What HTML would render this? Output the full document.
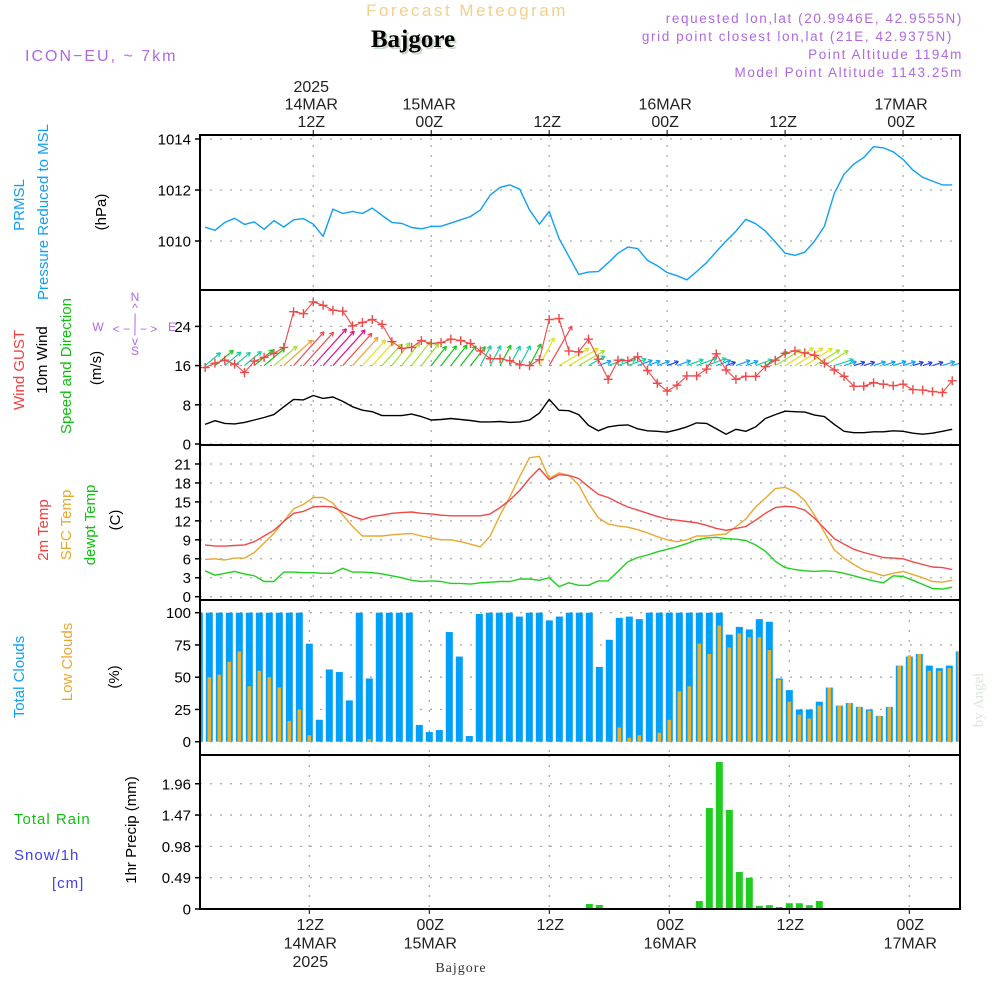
<!DOCTYPE html>
<html><head><meta charset="utf-8"><style>
html,body{margin:0;padding:0;background:#fff;}
svg{display:block;font-family:"Liberation Sans",sans-serif;}
</style></head><body>
<svg id="chart" width="1000" height="1000" viewBox="0 0 1000 1000">
<defs><clipPath id="plotclip"><rect x="200" y="135" width="760" height="775"/></clipPath></defs>
<g>
<text x="467" y="16" text-anchor="middle" font-size="17" fill="#f2cf8a" letter-spacing="2.5">Forecast Meteogram</text>
<text x="415" y="49" text-anchor="middle" font-size="25" font-weight="bold" font-family="Liberation Serif,serif" fill="#c8d8c8">Bajgore</text>
<text x="413" y="47" text-anchor="middle" font-size="25" font-weight="bold" font-family="Liberation Serif,serif" fill="#000">Bajgore</text>
<text x="25" y="61" font-size="16" fill="#b068e0" letter-spacing="2">ICON−EU, ~ 7km</text>
<g font-size="13.5" fill="#b068e0" text-anchor="end" letter-spacing="1.6">
<text x="963" y="23">requested lon,lat (20.9946E, 42.9555N)</text>
<text x="953" y="41">grid point closest lon,lat (21E, 42.9375N)</text>
<text x="963" y="59">Point Altitude 1194m</text>
<text x="963" y="77">Model Point Altitude 1143.25m</text>
</g></g>
<g id="axes"></g>
<g id="plots" clip-path="url(#plotclip)"></g>
<g id="frames"></g>
<g font-size="15">
<text transform="translate(24,205) rotate(-90)" text-anchor="middle" fill="#10a0f0">PRMSL</text>
<text transform="translate(48,212) rotate(-90)" text-anchor="middle" fill="#10a0f0">Pressure Reduced to MSL</text>
<text transform="translate(106,212) rotate(-90)" text-anchor="middle" fill="#000">(hPa)</text>
<text transform="translate(24,370) rotate(-90)" text-anchor="middle" fill="#f04040">Wind GUST</text>
<text transform="translate(47,360) rotate(-90)" text-anchor="middle" fill="#000">10m Wind</text>
<text transform="translate(71,366) rotate(-90)" text-anchor="middle" fill="#10c010">Speed and Direction</text>
<text transform="translate(101,368) rotate(-90)" text-anchor="middle" fill="#000">(m/s)</text>
<text transform="translate(48,530) rotate(-90)" text-anchor="middle" fill="#f04040">2m Temp</text>
<text transform="translate(71,525) rotate(-90)" text-anchor="middle" fill="#e8a830">SFC Temp</text>
<text transform="translate(95,525) rotate(-90)" text-anchor="middle" fill="#10c010">dewpt Temp</text>
<text transform="translate(120,520) rotate(-90)" text-anchor="middle" fill="#000">(C)</text>
<text transform="translate(24,677) rotate(-90)" text-anchor="middle" fill="#10a0f0">Total Clouds</text>
<text transform="translate(72,662) rotate(-90)" text-anchor="middle" fill="#e8a830">Low Clouds</text>
<text transform="translate(119,677) rotate(-90)" text-anchor="middle" fill="#000">(%)</text>
<text x="14" y="824" fill="#10c010" letter-spacing="1">Total  Rain</text>
<text x="14" y="860" fill="#4040f0" letter-spacing="1">Snow/1h</text>
<text x="52" y="888" fill="#4040f0" letter-spacing="1">[cm]</text>
<text transform="translate(136,830) rotate(-90)" text-anchor="middle" fill="#000">1hr Precip (mm)</text>
<g fill="#b068e0" stroke="none" font-size="12">
<text x="135" y="301" text-anchor="middle">N</text>
<text x="135" y="312" text-anchor="middle">^</text>
<text x="135" y="322" text-anchor="middle">|</text>
<text x="135" y="333" text-anchor="middle">&lt; − | − &gt;</text>
<text x="135" y="345" text-anchor="middle">v</text>
<text x="135" y="355" text-anchor="middle">S</text>
<text x="98" y="331" text-anchor="middle">W</text>
<text x="172" y="331" text-anchor="middle">E</text>
</g>
</g>
<text transform="translate(983,700) rotate(-90)" text-anchor="middle" font-size="15" font-family="Liberation Serif,serif" fill="#dde4dd">by Angel</text>
<text x="461" y="972" text-anchor="middle" font-size="14" font-family="Liberation Serif,serif" fill="#333" letter-spacing="1">Bajgore</text>
</svg>
<script>
const hours = [1,2,3,4,5,6,7,8,9,10,11,12,13,14,15,16,17,18,19,20,21,22,23,24,25,26,27,28,29,30,31,32,33,34,35,36,37,38,39,40,41,42,43,44,45,46,47,48,49,50,51,52,53,54,55,56,57,58,59,60,61,62,63,64,65,66,67,68,69,70,71,72,73,74,75,76,77];
const pressure = [1010.54,1010.42,1010.73,1010.89,1010.65,1010.75,1010.46,1010.8,1010.55,1010.83,1010.88,1010.66,1010.18,1011.25,1011.08,1011.16,1011.08,1011.29,1011.0,1010.73,1010.69,1010.53,1010.48,1010.57,1010.58,1010.7,1010.83,1010.96,1011.22,1011.8,1012.1,1012.2,1012.03,1011.22,1010.66,1011.16,1010.1,1009.4,1008.69,1008.78,1008.8,1009.15,1009.52,1009.76,1009.7,1009.24,1009.03,1008.76,1008.64,1008.48,1008.8,1009.15,1009.58,1010.0,1010.39,1010.85,1010.68,1010.39,1009.96,1009.52,1009.44,1009.56,1010.0,1010.58,1011.87,1012.62,1013.02,1013.27,1013.7,1013.65,1013.5,1013.2,1012.78,1012.5,1012.35,1012.2,1012.2];
const windSpeed = [4.0,4.76,4.2,4.1,4.4,4.9,5.4,6.0,7.6,9.1,9.0,9.9,9.3,9.6,8.7,7.6,6.9,6.6,5.8,5.8,5.8,6.1,5.6,4.9,5.0,5.2,5.0,4.8,4.5,4.5,4.6,4.4,4.5,4.9,6.3,9.1,6.9,6.8,6.0,3.8,2.7,3.5,3.8,3.9,3.1,2.7,2.6,2.4,2.9,3.5,4.3,4.2,3.1,2.0,3.0,2.6,3.5,5.2,6.0,6.7,6.6,6.5,5.9,5.6,4.0,2.6,2.3,2.3,2.5,2.5,2.7,2.6,2.2,2.0,2.2,2.6,3.0];
const windDir = [50,50,50,50,50,50,50,50,48,42,42,42,42,42,42,42,42,42,42,38,38,38,38,38,38,38,38,38,28,28,28,28,28,28,28,30,60,60,60,60,70,70,70,70,70,70,70,70,70,70,70,70,70,70,70,70,70,58,58,58,58,58,58,58,72,72,72,72,72,72,72,72,72,72,72,72,72];
const gust = [15.6,16.5,17.1,16.3,14.6,16.9,17.7,18.5,19.7,27.0,26.6,29.0,28.3,27.3,27.1,24.1,24.8,25.4,24.4,20.9,19.5,19.7,21.1,20.5,20.7,21.4,21.1,20.5,19.0,17.4,17.4,17.0,16.2,16.0,17.2,25.4,25.6,19.0,18.8,21.4,17.3,13.2,17.1,17.0,17.8,15.0,12.4,10.8,12.0,13.9,13.9,15.3,18.4,15.1,13.2,13.8,13.8,15.8,17.1,18.5,19.0,18.6,18.1,16.5,15.1,13.8,11.8,11.8,12.5,12.2,11.9,12.2,11.1,11.0,10.7,10.5,12.9];
const temp2m = [8.2,8.0,8.0,8.1,8.2,8.7,9.6,10.5,11.9,13.2,13.5,14.2,14.3,14.2,13.4,12.7,12.2,12.7,12.9,13.2,13.3,13.4,13.2,13.1,12.9,12.8,12.8,12.8,12.8,13.1,14.1,15.3,16.8,18.7,20.3,18.5,19.3,19.2,18.7,17.4,16.2,15.7,14.9,14.2,13.7,13.2,12.7,12.3,12.1,11.9,11.7,11.3,10.8,10.5,10.8,11.1,12.1,13.2,14.1,14.3,14.2,13.7,12.4,10.8,9.2,8.3,7.5,7.0,6.6,6.2,6.1,6.0,5.5,5.1,4.7,4.6,4.3];
const tempSfc = [5.9,6.0,5.8,6.1,6.1,7.0,8.5,10.0,12.0,13.9,14.6,15.7,15.7,14.8,12.9,11.1,9.6,9.6,9.6,9.8,9.9,10.0,9.6,9.3,9.0,9.0,8.7,8.3,7.9,9.6,12.9,15.8,19.0,22.0,22.2,18.7,19.6,19.2,17.7,14.8,12.5,11.5,11.2,11.0,10.6,10.1,9.5,9.0,8.7,9.0,9.6,9.6,9.8,9.9,11.1,12.3,14.2,15.6,17.1,17.3,16.6,15.2,12.9,10.2,7.4,6.1,5.1,4.2,3.8,3.3,3.7,4.0,3.5,3.0,2.4,2.3,2.6];
const dewpt = [4.1,3.4,3.7,4.0,3.6,3.3,2.4,2.4,3.9,3.9,3.8,3.8,3.7,3.7,4.5,3.9,3.9,3.8,3.6,3.3,3.0,2.6,2.4,2.5,2.4,2.1,2.1,2.0,2.2,2.3,2.4,2.4,2.8,2.8,2.6,3.0,1.6,2.2,1.8,1.8,2.5,2.5,4.0,5.5,6.2,6.6,7.1,7.5,7.9,8.4,9.0,9.3,9.4,9.2,9.1,8.9,8.2,7.2,5.6,4.6,4.3,4.1,4.0,4.1,4.0,3.7,3.3,2.9,2.5,2.2,3.3,3.2,2.6,1.95,1.3,1.2,1.5];
const totalClouds = [100,100,100,100,100,100,100,100,100,100,100,76,17,56,54,32,100,49,100,100,100,100,13,7.5,9,85,66,4.4,99,100,100,100,97,100,100,94,97,100,100,100,58,79,96,97,95,100,100,100,100,100,100,100,100,83,89,87,95,93,49,40,25,25,31,42,28,30,27,25,20,27,59,66,68,59,57,59,70];
const lowClouds = [58,50,52,62,70,43,55,50,42,16,25,5,0,0,0,0,0,2,0,0,0,0,0,0,0,0,0,0,0,0,0,0,0,0,0,0,0,0,0,0,0,0,11,3,5,0,7,17,39,43,76,68,90,73,84,81,81,71,48,31,21,18,28,42,28,30,27,24,20,27,59,67,68,55,55,57,70];
const precip = [0,0,0,0,0,0,0,0,0,0,0,0,0,0,0,0,0,0,0,0,0,0,0,0,0,0,0,0,0,0,0,0,0,0,0,0,0,0,0,0.078,0.063,0,0,0,0,0,0,0,0,0,0.125,1.58,2.30,1.55,0.58,0.49,0.05,0.06,0.03,0.09,0.09,0.06,0.125,0,0,0,0,0,0,0,0,0,0,0,0,0,0];
const pressureTicks = [1010,1012,1014];
const windTicks = [0,8,16,24];
const tempTicks = [0,3,6,9,12,15,18,21];
const cloudTicks = [0,25,50,75,100];
const precipTicks = [0,0.49,0.98,1.47,1.96];
const gridHours = [12,24,36,48,60,72];
const topLabels = [["2025","14MAR","12Z"],["15MAR","00Z"],["12Z"],["16MAR","00Z"],["12Z"],["17MAR","00Z"]];
const bottomLabels = [["12Z","14MAR","2025"],["00Z","15MAR"],["12Z"],["00Z","16MAR"],["12Z"],["00Z","17MAR"]];

const NS='http://www.w3.org/2000/svg';
const axes=document.getElementById('axes'), plots=document.getElementById('plots'), frames=document.getElementById('frames');
function mk(tag,attrs,parent){const e=document.createElementNS(NS,tag);for(const k in attrs)e.setAttribute(k,attrs[k]);parent.appendChild(e);return e;}
const xL=t=>195.3+9.83*t;
const xB=t=>199.3+10*(t-1);
const yP=v=>241-(v-1010)*25.5;
const yW=v=>444-4.9*v;
const yT=v=>596.7-6.32*v;
const yC=v=>741.7-1.29*v;
const yR=v=>909-63.9*v;
const panels=[[135,290],[290,445],[445,600],[600,755],[755,909]];

function grid(ticks,yf,xf,top,bot,fmt,name){
  ticks.forEach(v=>{
    const y=yf(v);
    const l=mk('line',{x1:200,x2:960,y1:y,y2:y,stroke:'#aaa','stroke-width':1.3,'stroke-dasharray':'2,8'},axes);
    
    
    mk('line',{x1:195,x2:200,y1:y,y2:y,stroke:'#000','stroke-width':1.5},axes);
    const tx=mk('text',{x:191,y:y+5.5,'text-anchor':'end','font-size':15,fill:'#000'},axes);
    tx.textContent=fmt(v);
    
    
  });
  gridHours.forEach(h=>{
    const x=xf(h);
    const l=mk('line',{x1:x,x2:x,y1:top,y2:bot,stroke:'#aaa','stroke-width':1.3,'stroke-dasharray':'2,8'},axes);
    
    
  });
}
grid(pressureTicks,yP,xL,135,290,v=>String(v),'pressure');
grid(windTicks,yW,xL,290,445,v=>String(v),'wind');
grid(tempTicks,yT,xL,445,600,v=>String(v),'temp');
grid(cloudTicks,yC,xB,600,755,v=>String(v),'clouds');
grid(precipTicks,yR,xB,755,909,v=>v===0?'0':v.toFixed(2),'precip');

gridHours.forEach((h,i)=>{
  const x=xL(h);
  mk('line',{x1:x,x2:x,y1:130,y2:135,stroke:'#000','stroke-width':1},axes);
  const tl=topLabels[i];
  tl.forEach((s,j)=>{
    const t=mk('text',{x:x-2,y:127-(tl.length-1-j)*17.5,'text-anchor':'middle','font-size':16,fill:'#222'},axes);
    t.textContent=s;
    
    
  });
  const xb=xB(h);
  mk('line',{x1:xb,x2:xb,y1:909,y2:914,stroke:'#000','stroke-width':1},axes);
  bottomLabels[i].forEach((s,j)=>{
    const t=mk('text',{x:xb+1,y:930+j*18.5,'text-anchor':'middle','font-size':16,fill:'#222'},axes);
    t.textContent=s;
    
    
  });
});

function line(vals,xf,yf,color,name,w){
  const d=vals.map((v,i)=>(i?'L':'M')+xf(hours[i]).toFixed(1)+','+yf(v).toFixed(1)).join('');
  const p=mk('path',{d:d,fill:'none',stroke:color,'stroke-width':w||1.4,'stroke-linejoin':'round'},plots);
  
  
}
line(pressure,xL,yP,'#10a0f0','pressure-line');

function arrowColor(s){
  if(s<2.5)return '#2040e8'; if(s<3.3)return '#10a0f0'; if(s<4.6)return '#10d0a0';
  if(s<5.5)return '#10c818'; if(s<6.2)return '#a0e030'; if(s<7.2)return '#e0e020';
  if(s<8.2)return '#f0a030'; if(s<9.3)return '#f04848'; return '#e01090';
}
windSpeed.forEach((s,i)=>{
  const x0=xL(hours[i]), y0=yW(16);
  const a=windDir[i]*Math.PI/180, L=s*5;
  const x1=x0+L*Math.sin(a), y1=y0-L*Math.cos(a);
  const c=arrowColor(s);
  const g=mk('g',{stroke:c,'stroke-width':1.2,fill:'none'},plots);
  
  
  mk('line',{x1:x0,y1:y0,x2:x1,y2:y1},g);
  const h=4.5;
  [a+Math.PI-0.5,a+Math.PI+0.5].forEach(b=>{
    mk('line',{x1:x1,y1:y1,x2:x1+h*Math.sin(b),y2:y1-h*Math.cos(b)},g);
  });
});
line(windSpeed,xL,yW,'#000','wind-speed-line');
line(gust,xL,yW,'#f04848','gust-line',1.1);
gust.forEach((v,i)=>{
  const x=xL(hours[i]),y=yW(v);
  const p=mk('path',{d:`M${x-4.5},${y}H${x+4.5}M${x},${y-4.5}V${y+4.5}`,stroke:'#f04848','stroke-width':1.4},plots);
  
  
});

line(dewpt,xL,yT,'#20d020','dewpoint-line');
line(tempSfc,xL,yT,'#e8a830','sfc-temp-line');
line(temp2m,xL,yT,'#f04848','temp-2m-line');

totalClouds.forEach((v,i)=>{
  const x=xB(hours[i]);
  const r=mk('rect',{x:x-3.5,y:yC(v),width:7,height:yC(0)-yC(v),fill:'#00a0f8'},plots);
  
  
  const lv=lowClouds[i];
  if(lv>0){
    const r2=mk('rect',{x:x-1.8,y:yC(lv),width:3.6,height:yC(0)-yC(lv),fill:'#e8b030'},plots);
    
    
  }
});
precip.forEach((v,i)=>{
  if(v<=0)return;
  const x=xB(hours[i]);
  const r=mk('rect',{x:x-3.5,y:yR(v),width:7,height:yR(0)-yR(v),fill:'#20cc20'},plots);
  
  
});

panels.forEach(([a,b])=>{
  const r=mk('rect',{x:200,y:a,width:760,height:b-a,fill:'none',stroke:'#000','stroke-width':2},frames);
  
  
});
</script>
</body></html>
